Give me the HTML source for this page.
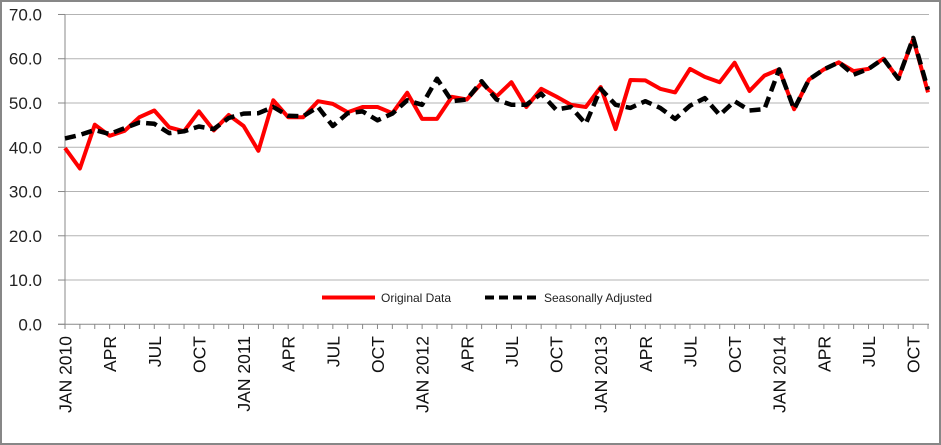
<!DOCTYPE html>
<html><head><meta charset="utf-8"><style>
html,body{margin:0;padding:0;background:#fff}
svg{display:block}
text{font-family:"Liberation Sans",sans-serif}
</style></head><body>
<svg id="s" width="941" height="445" xmlns="http://www.w3.org/2000/svg"></svg>
<script>
var red=[39.8,35.2,45.1,42.6,43.7,46.8,48.3,44.5,43.6,48.1,43.8,47.3,44.8,39.2,50.6,46.8,46.8,50.4,49.8,47.9,49.1,49.1,47.7,52.3,46.4,46.4,51.4,50.8,54.5,51.5,54.7,49.1,53.2,51.5,49.6,49.1,53.6,44.1,55.2,55.1,53.2,52.4,57.7,55.9,54.7,59.1,52.7,56.2,57.6,48.6,55.3,57.6,59.2,57.2,57.7,60.0,55.5,64.5,52.4];
var blk=[42.0,42.8,43.9,43.0,44.3,45.6,45.3,43.2,43.6,44.7,44.1,46.6,47.6,47.7,49.1,47.1,47.0,49.1,44.8,47.7,48.1,46.1,47.6,50.6,49.6,55.5,50.4,50.8,54.9,50.8,49.6,49.6,52.1,48.5,49.1,45.3,53.2,49.6,48.9,50.4,48.9,46.4,49.4,51.1,47.3,50.4,48.3,48.6,57.6,48.6,55.3,57.6,59.2,56.4,57.7,60.0,55.5,64.7,53.0];
function X(i){return 65+i*14.88}
function Y(v){return 324.3-v*4.426}
var h='<rect x="1" y="1" width="939" height="443" fill="#fff" stroke="#878787" stroke-width="2"/>';
for(var v=10;v<=70;v+=10){h+='<line x1="65" x2="929" y1="'+Y(v)+'" y2="'+Y(v)+'" stroke="#b3b3b3" stroke-width="1"/>';}
for(var v=0;v<=70;v+=10){h+='<line x1="58" x2="65" y1="'+Y(v)+'" y2="'+Y(v)+'" stroke="#888"/>';
h+='<text x="42" y="'+(Y(v)+6)+'" font-size="17" text-anchor="end" fill="#222">'+v.toFixed(1)+'</text>';}
h+='<line x1="65" x2="65" y1="'+Y(70)+'" y2="324.3" stroke="#888"/>';
h+='<line x1="58" x2="929" y1="324.3" y2="324.3" stroke="#888"/>';
for(var i=0;i<59;i++){h+='<line x1="'+X(i)+'" x2="'+X(i)+'" y1="324.3" y2="329" stroke="#888"/>';}
var m=['JAN','APR','JUL','OCT'];
for(var i=0;i<59;i+=3){var q=(i/3)%4;var lab=m[q]+(q==0?' '+(2010+i/12):'');
h+='<text transform="translate('+(X(i)+6.5)+',336) rotate(-90)" font-size="17.5" text-anchor="end" fill="#111">'+lab+'</text>';}
function pts(a){return a.map(function(v,i){return X(i).toFixed(1)+','+Y(v).toFixed(1)}).join(' ')}
h+='<polyline points="'+pts(red)+'" fill="none" stroke="#ff0000" stroke-width="4" stroke-linejoin="round"/>';
h+='<polyline points="'+pts(blk)+'" fill="none" stroke="#000" stroke-width="4.5" stroke-dasharray="11,6" stroke-linejoin="round"/>';
h+='<line x1="322" x2="375" y1="297.5" y2="297.5" stroke="#ff0000" stroke-width="4"/>';
h+='<text x="381" y="302" font-size="12" fill="#222">Original Data</text>';
h+='<line x1="485" x2="539" y1="297.5" y2="297.5" stroke="#000" stroke-width="4" stroke-dasharray="9,5"/>';
h+='<text x="544" y="302" font-size="12" fill="#222">Seasonally Adjusted</text>';
document.getElementById('s').innerHTML=h;
</script>
</body></html>
